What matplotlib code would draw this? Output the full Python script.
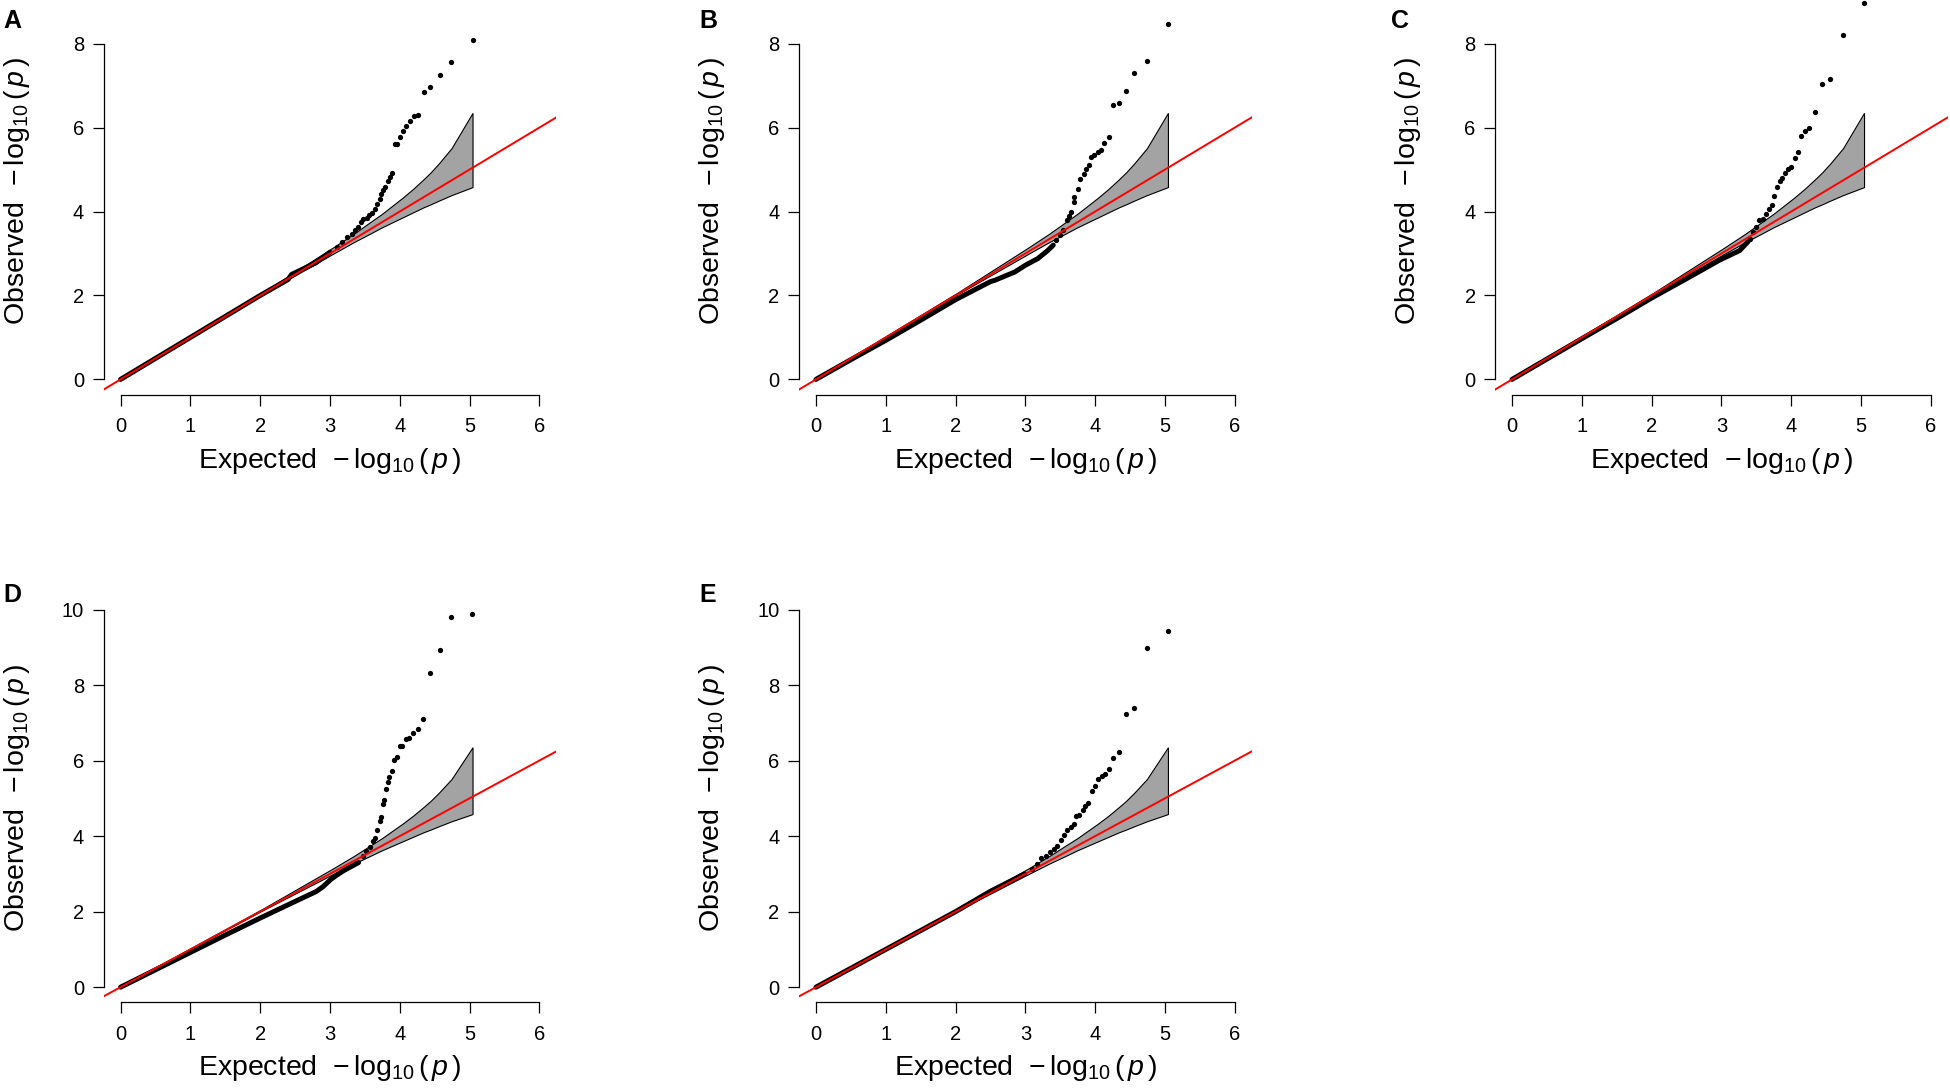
import numpy as np
import matplotlib
matplotlib.use("Agg")
import matplotlib.pyplot as plt

plt.rcParams['font.family'] = ['Liberation Sans', 'DejaVu Sans']
plt.rcParams['mathtext.fontset'] = 'custom'
plt.rcParams['mathtext.rm'] = 'Liberation Sans'
plt.rcParams['mathtext.it'] = 'Liberation Sans:italic'

# ---- data ----
# 90% confidence band of the expected distribution (same for all panels)
band_x = [0.0, 1.05, 2.05, 3.05, 3.35, 3.57, 3.75, 4.05, 4.20, 4.35, 4.45, 4.57, 4.75, 5.05]
band_hi = [0.0, 1.06, 2.07, 3.13, 3.46, 3.72, 3.93, 4.32, 4.53, 4.76, 4.92, 5.14, 5.50, 6.34]
band_lo = [0.0, 1.04, 2.03, 2.98, 3.26, 3.45, 3.61, 3.85, 3.97, 4.09, 4.16, 4.25, 4.38, 4.57]

# A
a_body_x = [0.0, 1.0, 2.0, 2.40, 2.45, 2.80, 3.00]
a_body_y = [0.0, 1.0, 2.0, 2.38, 2.50, 2.78, 3.03]
a_tail_x = [3.10, 3.17, 3.24, 3.32, 3.36, 3.40, 3.44, 3.48, 3.53, 3.56, 3.60, 3.65, 3.68,
            3.71, 3.73, 3.76, 3.79, 3.83, 3.86, 3.89, 3.93, 3.96, 4.00, 4.04, 4.09, 4.14,
            4.20, 4.26, 4.35, 4.44, 4.57, 4.74, 5.05]
a_tail_y = [3.15, 3.27, 3.39, 3.47, 3.55, 3.63, 3.75, 3.83, 3.85, 3.91, 3.96, 4.07, 4.19,
            4.31, 4.41, 4.52, 4.58, 4.73, 4.82, 4.92, 5.60, 5.62, 5.77, 5.93, 6.03, 6.16,
            6.27, 6.30, 6.86, 6.97, 7.26, 7.56, 8.08]

# B
b_body_x = [0.0, 0.5, 1.0, 1.5, 2.0, 2.5, 2.56, 2.85, 3.0, 3.18, 3.32, 3.40]
b_body_y = [0.0, 0.47, 0.93, 1.41, 1.90, 2.33, 2.36, 2.56, 2.72, 2.88, 3.07, 3.20]
b_tail_x = [3.44, 3.49, 3.54, 3.59, 3.62, 3.66, 3.70, 3.70, 3.75, 3.79, 3.84, 3.87, 3.91,
            3.94, 3.98, 4.04, 4.08, 4.13, 4.20, 4.26, 4.34, 4.44, 4.56, 4.74, 5.04]
b_tail_y = [3.32, 3.45, 3.55, 3.79, 3.90, 3.98, 4.23, 4.34, 4.54, 4.78, 4.90, 5.02, 5.10,
            5.30, 5.34, 5.42, 5.46, 5.63, 5.77, 6.55, 6.58, 6.87, 7.31, 7.58, 8.47]

# C
c_body_x = [0.0, 1.0, 1.5, 2.0, 2.5, 2.97, 3.26, 3.38]
c_body_y = [0.0, 0.97, 1.45, 1.94, 2.40, 2.84, 3.07, 3.28]
c_tail_x = [3.41, 3.45, 3.49, 3.54, 3.60, 3.64, 3.68, 3.72, 3.75, 3.80, 3.84, 3.87, 3.91,
            3.95, 3.99, 4.05, 4.09, 4.14, 4.20, 4.26, 4.34, 4.44, 4.56, 4.74, 5.04]
c_tail_y = [3.35, 3.51, 3.63, 3.79, 3.83, 3.95, 4.06, 4.16, 4.38, 4.58, 4.73, 4.81, 4.91,
            5.02, 5.07, 5.28, 5.41, 5.79, 5.92, 5.98, 6.36, 7.05, 7.17, 8.20, 8.97]

# D
d_body_x = [0.0, 1.0, 1.5, 2.0, 2.5, 2.65, 2.80, 2.90, 3.01, 3.10, 3.20, 3.41]
d_body_y = [0.0, 0.92, 1.38, 1.83, 2.27, 2.40, 2.53, 2.66, 2.85, 2.97, 3.09, 3.30]
d_tail_x = [3.47, 3.52, 3.57, 3.62, 3.65, 3.68, 3.71, 3.73, 3.76, 3.78, 3.80, 3.83, 3.85,
            3.89, 3.92, 3.96, 4.00, 4.03, 4.09, 4.13, 4.19, 4.26, 4.34, 4.43, 4.57, 4.74, 5.04]
d_tail_y = [3.48, 3.60, 3.70, 3.87, 3.96, 4.15, 4.41, 4.50, 4.84, 4.96, 5.24, 5.43, 5.56,
            5.72, 6.02, 6.09, 6.38, 6.39, 6.57, 6.60, 6.73, 6.84, 7.09, 8.32, 8.92, 9.79, 9.88]

# E
e_body_x = [0.0, 1.0, 2.0, 2.5, 2.99]
e_body_y = [0.0, 1.0, 2.0, 2.54, 3.00]
e_tail_x = [3.09, 3.16, 3.22, 3.29, 3.35, 3.41, 3.46, 3.51, 3.55, 3.60, 3.65, 3.69, 3.73,
            3.77, 3.82, 3.86, 3.90, 3.95, 4.00, 4.04, 4.10, 4.14, 4.20, 4.26, 4.34, 4.44,
            4.56, 4.74, 5.04]
e_tail_y = [3.13, 3.26, 3.42, 3.48, 3.57, 3.66, 3.75, 3.90, 4.02, 4.15, 4.24, 4.33, 4.52,
            4.57, 4.68, 4.81, 4.88, 5.19, 5.33, 5.52, 5.60, 5.65, 5.78, 6.08, 6.24, 7.23,
            7.40, 8.98, 9.42]

panels = [
    ('A', a_body_x, a_body_y, a_tail_x, a_tail_y),
    ('B', b_body_x, b_body_y, b_tail_x, b_tail_y),
    ('C', c_body_x, c_body_y, c_tail_x, c_tail_y),
    ('D', d_body_x, d_body_y, d_tail_x, d_tail_y),
    ('E', e_body_x, e_body_y, e_tail_x, e_tail_y),
]

W, H = 1950, 1088
fig = plt.figure(figsize=(W / 100, H / 100), dpi=100)

lefts = [103.8, 799.2, 1495.3]
ax_w = 452.3
ax_h = 407.9
row_bottom = [394.5, 1002.3]      # pixel y of x-axis line
row_ymax = [9, 10]
row_ytop = [8, 10]

xlab = r'Expected  $-\,\log_{10}(\,p\,)$'
ylab = r'Observed  $-\,\log_{10}(\,p\,)$'

for k, (letter, bx, by, tx, ty) in enumerate(panels):
    r, c = divmod(k, 3)
    left = lefts[c]
    bot = row_bottom[r]
    ax = fig.add_axes([left / W, (H - bot) / H, ax_w / W, ax_h / H])
    ymax = row_ymax[r]
    ax.set_xlim(-0.24, 6.24)
    ax.set_ylim(-0.04 * ymax, ymax * 1.04)

    # band
    poly_x = np.concatenate([band_x, band_x[::-1]])
    poly_y = np.concatenate([band_hi, band_lo[::-1]])
    ax.fill(poly_x, poly_y, facecolor='#a3a3a3', edgecolor='black', lw=0.8, zorder=1)

    # observed points
    ax.plot(bx, by, '-', color='black', lw=3.6, solid_capstyle='round',
            solid_joinstyle='round', zorder=2)
    ax.plot(tx, ty, 'o', color='black', ms=3.8, mew=0, zorder=2)

    # y = x reference
    ax.axline((0, 0), slope=1, color='red', lw=1.4, zorder=3)

    for s in ['top', 'right']:
        ax.spines[s].set_visible(False)
    ax.spines['left'].set_bounds(0, row_ytop[r])
    ax.spines['bottom'].set_bounds(0, 6)
    for s in ['left', 'bottom']:
        ax.spines[s].set_linewidth(0.9)
    ax.set_xticks(range(0, 7))
    ax.set_yticks(range(0, row_ytop[r] + 1, 2))
    ax.tick_params(axis='both', direction='out', length=7.6, width=0.9, labelsize=14.5)
    ax.tick_params(axis='x', pad=8.5)
    ax.tick_params(axis='y', pad=6.5)

    xc = (left + ax_w / 2) / W
    fig.text(xc, (H - (bot + 66)) / H, xlab,
             ha='center', va='center', fontsize=20.5)
    fig.text((left - 87) / W, (H - (bot - ax_h / 2)) / H, ylab,
             ha='center', va='center', rotation=90, fontsize=20.5)

    lx = [3, 699, 1391][c]
    ly = [9, 583][r]
    fig.text(lx / W, (H - ly) / H, letter, ha='left', va='top',
             fontsize=18, fontweight='bold')

fig.savefig('out.png', dpi=100)
